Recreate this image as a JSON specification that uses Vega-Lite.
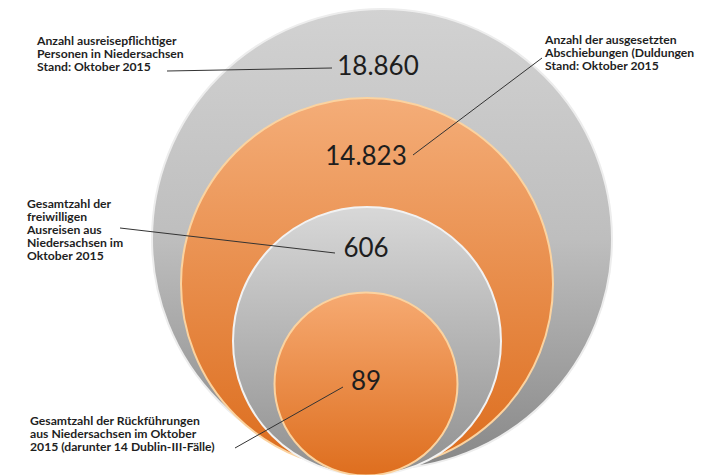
{
  "$schema": "https://vega.github.io/schema/vega-lite/v6.json",
  "width": 705,
  "height": 475,
  "padding": 0,
  "autosize": {"type": "fit", "contains": "padding"},
  "background": "white",
  "config": {"view": {"stroke": null}},
  "data": {
    "values": [
      {"value": 18860, "label": "18.860", "rank": 1, "note": "Anzahl ausreisepflichtiger\nPersonen in Niedersachsen\nStand: Oktober 2015"},
      {"value": 14823, "label": "14.823", "rank": 2, "note": "Anzahl der ausgesetzten\nAbschiebungen (Duldungen\nStand: Oktober 2015"},
      {"value": 606, "label": "606", "rank": 3, "note": "Gesamtzahl der\nfreiwilligen\nAusreisen aus\nNiedersachsen im\nOktober 2015"},
      {"value": 89, "label": "89", "rank": 4, "note": "Gesamtzahl der Rückführungen\naus Niedersachsen im Oktober\n2015 (darunter 14  Dublin-III-Fälle)"}
    ]
  },
  "resolve": {"scale": {"x": "independent", "y": "independent", "size": "independent"}},
  "layer": [
    {
      "transform": [{"filter": "datum.value == 18860"}],
      "mark": {"type": "point", "shape": "circle", "filled": true, "opacity": 1, "strokeOpacity": 1, "stroke": "#ededed", "strokeWidth": 2,
        "fill": {"gradient": "linear", "x1": 0, "y1": 0, "x2": 0, "y2": 1, "stops": [{"offset": 0, "color": "#d2d2d2"}, {"offset": 0.5, "color": "#bebebe"}, {"offset": 1, "color": "#878787"}]}},
      "encoding": {
        "x": {"field": "value", "type": "quantitative", "axis": null, "scale": {"domain": [89, 606, 14823, 18860], "range": [366, 367, 367, 382], "nice": false, "zero": false}},
        "y": {"field": "value", "type": "quantitative", "axis": null, "scale": {"domain": [89, 606, 14823, 18860], "range": [384, 341, 284, 239], "nice": false, "zero": false}},
        "size": {"field": "value", "type": "quantitative", "legend": null, "scale": {"domain": [89, 606, 14823, 18860], "range": [33489, 71824, 138384, 211600], "zero": false, "nice": false}}
      }
    },
    {
      "transform": [{"filter": "datum.value == 14823"}],
      "mark": {"type": "point", "shape": "circle", "filled": true, "opacity": 1, "strokeOpacity": 1, "stroke": "#fbd3a0", "strokeWidth": 2,
        "fill": {"gradient": "linear", "x1": 0, "y1": 0, "x2": 0, "y2": 1, "stops": [{"offset": 0, "color": "#f4ad78"}, {"offset": 1, "color": "#dc6c1c"}]}},
      "encoding": {
        "x": {"field": "value", "type": "quantitative", "axis": null, "scale": {"domain": [89, 606, 14823, 18860], "range": [366, 367, 367, 382], "nice": false, "zero": false}},
        "y": {"field": "value", "type": "quantitative", "axis": null, "scale": {"domain": [89, 606, 14823, 18860], "range": [384, 341, 284, 239], "nice": false, "zero": false}},
        "size": {"field": "value", "type": "quantitative", "legend": null, "scale": {"domain": [89, 606, 14823, 18860], "range": [33489, 71824, 138384, 211600], "zero": false, "nice": false}}
      }
    },
    {
      "transform": [{"filter": "datum.value == 606"}],
      "mark": {"type": "point", "shape": "circle", "filled": true, "opacity": 1, "strokeOpacity": 1, "stroke": "#f2f2f2", "strokeWidth": 2,
        "fill": {"gradient": "linear", "x1": 0, "y1": 0, "x2": 0, "y2": 1, "stops": [{"offset": 0, "color": "#d8d8d8"}, {"offset": 1, "color": "#909090"}]}},
      "encoding": {
        "x": {"field": "value", "type": "quantitative", "axis": null, "scale": {"domain": [89, 606, 14823, 18860], "range": [366, 367, 367, 382], "nice": false, "zero": false}},
        "y": {"field": "value", "type": "quantitative", "axis": null, "scale": {"domain": [89, 606, 14823, 18860], "range": [384, 341, 284, 239], "nice": false, "zero": false}},
        "size": {"field": "value", "type": "quantitative", "legend": null, "scale": {"domain": [89, 606, 14823, 18860], "range": [33489, 71824, 138384, 211600], "zero": false, "nice": false}}
      }
    },
    {
      "transform": [{"filter": "datum.value == 89"}],
      "mark": {"type": "point", "shape": "circle", "filled": true, "opacity": 1, "strokeOpacity": 1, "stroke": "#fbd3a0", "strokeWidth": 2,
        "fill": {"gradient": "linear", "x1": 0, "y1": 0, "x2": 0, "y2": 1, "stops": [{"offset": 0, "color": "#f6aa72"}, {"offset": 1, "color": "#de6e1e"}]}},
      "encoding": {
        "x": {"field": "value", "type": "quantitative", "axis": null, "scale": {"domain": [89, 606, 14823, 18860], "range": [366, 367, 367, 382], "nice": false, "zero": false}},
        "y": {"field": "value", "type": "quantitative", "axis": null, "scale": {"domain": [89, 606, 14823, 18860], "range": [384, 341, 284, 239], "nice": false, "zero": false}},
        "size": {"field": "value", "type": "quantitative", "legend": null, "scale": {"domain": [89, 606, 14823, 18860], "range": [33489, 71824, 138384, 211600], "zero": false, "nice": false}}
      }
    },
    {
      "mark": {"type": "rule", "color": "#333333", "strokeWidth": 1},
      "encoding": {
        "x": {"field": "value", "type": "quantitative", "axis": null, "scale": {"domain": [1, 2, 3, 4, 89, 606, 14823, 18860], "range": [332, 413, 335, 343, 235, 120, 542, 167], "nice": false, "zero": false}},
        "x2": {"field": "rank"},
        "y": {"field": "value", "type": "quantitative", "axis": null, "scale": {"domain": [1, 2, 3, 4, 89, 606, 14823, 18860], "range": [68, 155, 253, 387, 448, 228, 58, 71], "nice": false, "zero": false}},
        "y2": {"field": "rank"}
      }
    },
    {
      "mark": {"type": "text", "font": "Lato", "fontSize": 26, "color": "#1e1e1e", "align": "center", "baseline": "middle"},
      "encoding": {
        "x": {"field": "value", "type": "quantitative", "axis": null, "scale": {"domain": [89, 606, 14823, 18860], "range": [366, 366, 366, 378], "nice": false, "zero": false}},
        "y": {"field": "value", "type": "quantitative", "axis": null, "scale": {"domain": [89, 606, 14823, 18860], "range": [382, 249, 157, 67], "nice": false, "zero": false}},
        "text": {"field": "label"}
      }
    },
    {
      "mark": {"type": "text", "font": "Lato", "fontSize": 12.2, "fontWeight": "bold", "color": "#1f1f1f", "align": "left", "baseline": "top", "lineBreak": "\n", "lineHeight": 13},
      "encoding": {
        "x": {"field": "value", "type": "quantitative", "axis": null, "scale": {"domain": [89, 606, 14823, 18860], "range": [30, 27, 545, 37], "nice": false, "zero": false}},
        "y": {"field": "value", "type": "quantitative", "axis": null, "scale": {"domain": [89, 606, 14823, 18860], "range": [415, 198, 34, 35], "nice": false, "zero": false}},
        "text": {"field": "note"}
      }
    }
  ]
}
